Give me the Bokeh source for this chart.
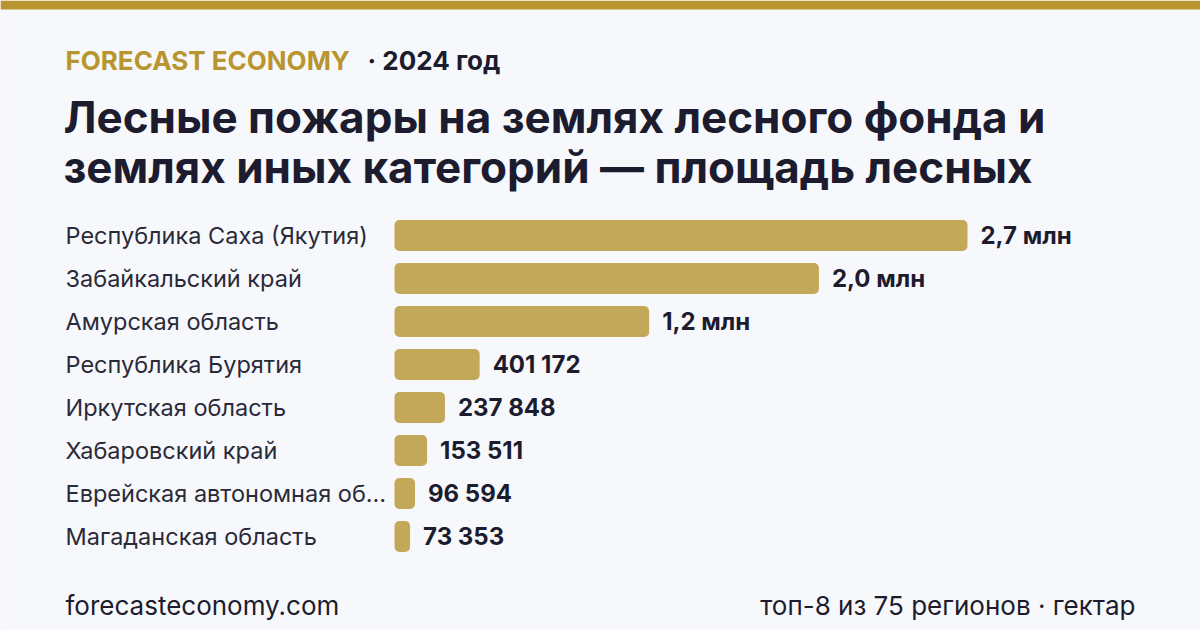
from bokeh.plotting import figure
from bokeh.models import Range1d, Label, ColumnDataSource
from bokeh.core.properties import value
from bokeh.embed import file_html
from bokeh.resources import INLINE

# Forest fire area by region, hectares (2024, top-8)
regions = [
    "Республика Саха (Якутия)",
    "Забайкальский край",
    "Амурская область",
    "Республика Бурятия",
    "Иркутская область",
    "Хабаровский край",
    "Еврейская автономная область",
    "Магаданская область",
]
area_ha = [2_700_000, 2_000_000, 1_200_000, 401_172, 237_848, 153_511, 96_594, 73_353]

brand = "FORECAST ECONOMY"
year_tag = "· 2024 год"
title_lines = [
    "Лесные пожары на землях лесного фонда и",
    "землях иных категорий — площадь лесных",
]
source_text = "forecasteconomy.com"
note_text = "топ-8 из 75 регионов · гектар"

W, H = 1200, 630
BG = "#f7f8fc"
GOLD = "#b8952e"
BAR = "#c4a85a"
INK = "#1c1c2e"
LABEL_INK = "#2a2a38"
FONT = "Inter"

# scale: bar origin and pixels per hectare
X0_PX = 394
PX_PER_HA = 573 / 2_700_000
ROW0_PX, ROW_STEP = 235, 43


def fx(px):
    return (px - X0_PX) / PX_PER_HA


def fy(px):
    return (px - ROW0_PX) / ROW_STEP


def fmt(v):
    if v >= 1_000_000:
        return f"{v / 1_000_000:.1f}".replace(".", ",") + " млн"
    return f"{v:,}".replace(",", " ")


def short(name, n=24):
    return name if len(name) <= n else name[: n - 1] + "…"


p = figure(width=W, height=H, output_backend="svg", toolbar_location=None,
           x_range=Range1d(fx(0), fx(W)), y_range=Range1d(fy(H), fy(0)),
           min_border=0, background_fill_color=BG, border_fill_color=BG,
           outline_line_color=None)
p.xaxis.visible = False
p.yaxis.visible = False
p.grid.visible = False

# top accent band
p.quad(left=fx(0), right=fx(W), top=fy(0), bottom=fy(9),
       fill_color=GOLD, line_color=None)

rows = list(range(len(regions)))
src = ColumnDataSource(dict(
    y=rows,
    v=area_ha,
    name=[short(r) for r in regions],
    lbl=[fmt(v) for v in area_ha],
    lx=[v + 13 / PX_PER_HA for v in area_ha],
))

p.hbar(y="y", left=0, right="v", height=31 / ROW_STEP, source=src,
       fill_color=BAR, line_color=None, border_radius=5)

p.text(x=fx(65), y="y", text="name", source=src,
       text_font=value(FONT), text_font_size="23.5px", text_color=LABEL_INK,
       text_baseline="middle", text_align="left")

p.text(x="lx", y="y", text="lbl", source=src,
       text_font=value(FONT), text_font_size="24px", text_font_style="bold",
       text_color=INK, text_baseline="middle", text_align="left")


def add_label(txt, x, y, size, color, style="normal", align="left", baseline="alphabetic"):
    p.add_layout(Label(x=fx(x), y=fy(y), text=txt, text_font=FONT,
                       text_font_size=size, text_color=color,
                       text_font_style=style, text_align=align,
                       text_baseline=baseline))


add_label(brand, 65, 60, "26px", GOLD, "bold")
add_label(year_tag, 367, 60, "26px", INK, "bold")
add_label(title_lines[0], 63, 116, "44px", INK, "bold")
add_label(title_lines[1], 63, 166, "44px", INK, "bold")
add_label(source_text, 65, 605, "26px", INK)
add_label(note_text, 1135, 605, "26px", INK, align="right")

open("out.html", "w").write(file_html(p, INLINE))
